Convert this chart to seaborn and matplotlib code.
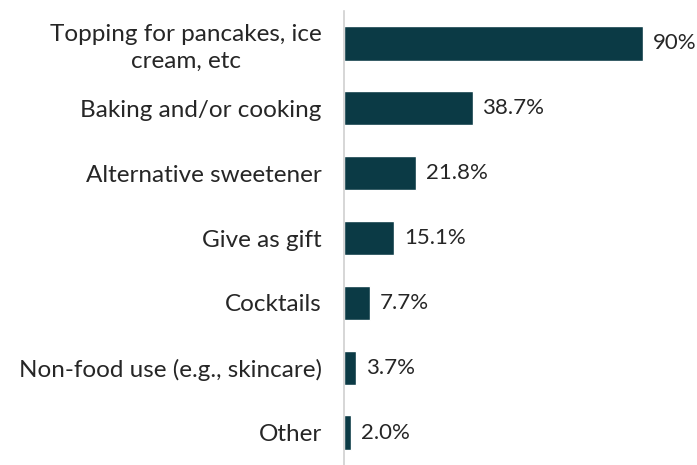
import matplotlib
matplotlib.use("Agg")
import matplotlib.pyplot as plt
import seaborn as sns
import pandas as pd

categories = ["Topping for pancakes, ice\ncream, etc", "Baking and/or cooking",
              "Alternative sweetener", "Give as gift", "Cocktails",
              "Non-food use (e.g., skincare)", "Other"]
values = [90, 38.7, 21.8, 15.1, 7.7, 3.7, 2.0]
value_labels = ["90%", "38.7%", "21.8%", "15.1%", "7.7%", "3.7%", "2.0%"]

sns.set_theme(style="white")
plt.rcParams["font.family"] = ["Lato", "DejaVu Sans"]

df = pd.DataFrame({"cat": categories, "val": values})
fig = plt.figure(figsize=(6.97, 4.65), dpi=100)
ax = fig.add_axes([344/697, 0.0, (697-344)/697, (465-11)/465])
sns.barplot(data=df, x="val", y="cat", color="#0b3a45", width=0.53, ax=ax, saturation=1)
ax.set_xlim(0, 106.3)
ax.set_ylim(6.5, -0.5)
ax.set_xlabel("")
ax.set_ylabel("")
ax.set_xticks([])
for s in ["top", "right", "bottom"]:
    ax.spines[s].set_visible(False)
ax.spines["left"].set_color("#d0d0d0")
ax.spines["left"].set_linewidth(1.2)
ax.tick_params(axis="y", length=0, pad=16, labelsize=17.5, labelcolor="#262626")
for lbl in ax.get_yticklabels():
    lbl.set_horizontalalignment("right")
    lbl.set_multialignment("center")
    lbl.set_linespacing(1.3)
for i, (v, t) in enumerate(zip(values, value_labels)):
    ax.text(v + 3.0, i, t, va="center", ha="left", fontsize=16, color="#262626")
fig.savefig("out.png", dpi=100)
